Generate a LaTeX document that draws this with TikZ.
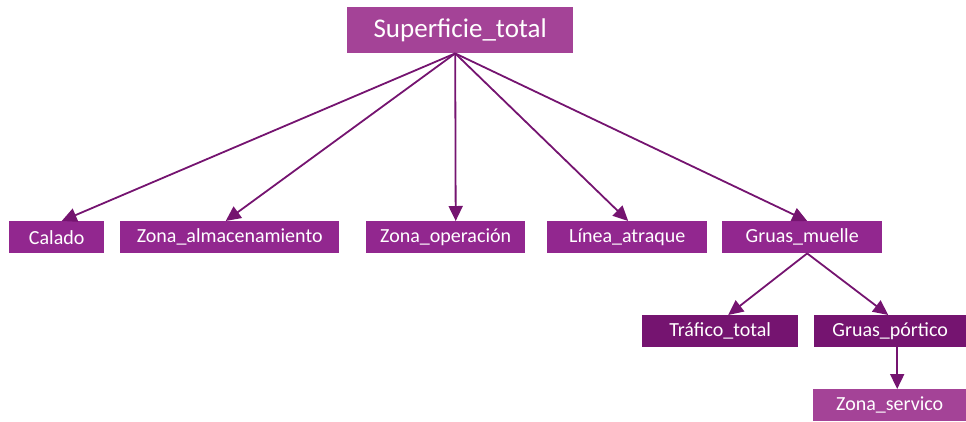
\documentclass[tikz,border=0pt]{standalone}
\usepackage{fontspec}
\setmainfont{Carlito}
\usetikzlibrary{arrows.meta}
\definecolor{pA}{HTML}{A44397}
\definecolor{pB}{HTML}{92278F}
\definecolor{pC}{HTML}{751470}
\definecolor{ln}{HTML}{751470}
\tikzset{
  box/.style={draw=none, text=white, inner sep=0pt, anchor=north west, align=center, font=\fontsize{20}{24}\selectfont},
  conn/.style={draw=ln, line width=1.8pt, -{Triangle[length=15pt,width=14pt]}},
}
\begin{document}
\begin{tikzpicture}[x=1pt,y=-1pt]
\useasboundingbox (0,0) rectangle (966,421);
\node[box, fill=pA, minimum width=226pt, minimum height=46pt, font=\fontsize{27}{32}\selectfont] (sup) at (347,7) {Superficie\_total};
\node[box, fill=pB, minimum width=95pt, minimum height=32pt] (cal) at (9,221) {Calado};
\node[box, fill=pB, minimum width=219pt, minimum height=32pt] (alm) at (120,221) {Zona\_almacenamiento};
\node[box, fill=pB, minimum width=159pt, minimum height=32pt] (ope) at (366,221) {Zona\_operación};
\node[box, fill=pB, minimum width=160pt, minimum height=32pt] (lin) at (547,221) {Línea\_atraque};
\node[box, fill=pB, minimum width=160pt, minimum height=32pt] (gm) at (722,221) {Gruas\_muelle};
\node[box, fill=pC, minimum width=156pt, minimum height=32pt] (tra) at (642,315) {Tráfico\_total};
\node[box, fill=pC, minimum width=152pt, minimum height=32pt] (gp) at (814,315) {Gruas\_pórtico};
\node[box, fill=pA, minimum width=153pt, minimum height=32pt] (zs) at (813,389) {Zona\_servico};
\coordinate (o1) at ([xshift=-5pt]sup.south);
\coordinate (o2) at ([xshift=5pt]gm.south);
\coordinate (o3) at ([xshift=7pt]gp.south);
\draw[conn] (o1) -- ([xshift=5pt]cal.north);
\draw[conn] (o1) -- ([xshift=-4pt]alm.north);
\draw[conn] (o1) -- ([xshift=10pt]ope.north);
\draw[conn] (o1) -- ([xshift=1pt]lin.north);
\draw[conn] (o1) -- ([xshift=5pt]gm.north);
\draw[conn] (o2) -- ([xshift=8pt]tra.north);
\draw[conn] (o2) -- ([xshift=-2pt]gp.north);
\draw[conn] (o3) -- (o3 |- zs.north);
\end{tikzpicture}
\end{document}
